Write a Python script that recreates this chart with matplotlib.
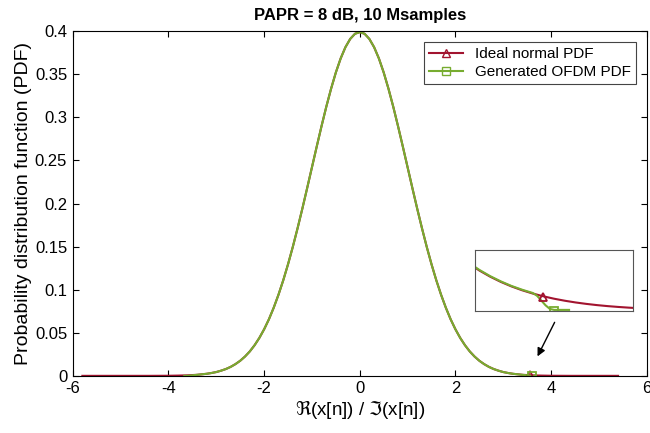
import matplotlib.pyplot as plt
from matplotlib.lines import Line2D

plt.rcParams['font.family'] = ['Liberation Sans', 'DejaVu Sans']
plt.rcParams['mathtext.fontset'] = 'dejavusans'
plt.rcParams['axes.unicode_minus'] = False

# ideal normal pdf, right half (mirrored for the left half)
x_half = [0.0, 0.1, 0.2, 0.3, 0.4, 0.5, 0.6, 0.7, 0.8, 0.9, 1.0, 1.1, 1.2, 1.3, 1.4, 1.5,
          1.6, 1.7, 1.8, 1.9, 2.0, 2.1, 2.2, 2.3, 2.4, 2.5, 2.6, 2.7, 2.8, 2.9, 3.0, 3.1,
          3.2, 3.4, 3.6, 3.8, 4.0, 4.4, 4.8, 5.4, 5.8]
pdf_half = [0.3989, 0.3970, 0.3910, 0.3814, 0.3683, 0.3521, 0.3332, 0.3123, 0.2897, 0.2661,
            0.2420, 0.2179, 0.1942, 0.1714, 0.1497, 0.1295, 0.1109, 0.0941, 0.0790, 0.0656,
            0.0540, 0.0440, 0.0355, 0.0283, 0.0224, 0.0175, 0.0136, 0.0104, 0.0079, 0.0060,
            0.0044, 0.0033, 0.0024, 0.0012, 0.0006, 0.0003, 0.0001, 0.0000, 0.0000, 0.0000,
            0.0000]
x_ideal_max = 5.4

# generated OFDM pdf: same as ideal up to the clipping level, then zero
ofdm_clip = 3.6
ofdm_end = 3.67

# zoomed tail (inset)
x_tail = [3.20, 3.25, 3.30, 3.35, 3.40, 3.45, 3.50, 3.55, 3.60, 3.65, 3.70, 3.75, 3.80,
          3.85, 3.90, 3.95, 4.00]
tail_ideal = [0.002384, 0.002029, 0.001723, 0.001459, 0.001232, 0.001038, 0.000873, 0.000732,
              0.000612, 0.000511, 0.000425, 0.000353, 0.000292, 0.000241, 0.000199, 0.000163,
              0.000134]
x_tail_ofdm = [3.20, 3.25, 3.30, 3.35, 3.40, 3.45, 3.50, 3.52, 3.54, 3.56, 3.58, 3.60, 3.67]
tail_ofdm = [0.002420, 0.002060, 0.001750, 0.001485, 0.001255, 0.001065, 0.000900, 0.000760,
             0.000520, 0.000280, 0.000100, 0.000050, 0.000050]

# marker positions
mark_ideal = (3.55, 0.0007)
mark_ofdm = (3.60, 0.0)

red = '#A2142F'
green = '#77AC30'

# build full curves from the half
x_ideal = [-x for x in reversed(x_half[1:])] + x_half
pdf_ideal = list(reversed(pdf_half[1:])) + pdf_half
keep = [i for i, x in enumerate(x_ideal) if x <= x_ideal_max]
x_ideal = [x_ideal[i] for i in keep]
pdf_ideal = [pdf_ideal[i] for i in keep]

x_o = [x for x in x_half if x < ofdm_clip]
y_o = pdf_half[:len(x_o)]
x_o = x_o + [ofdm_clip, ofdm_end]
y_o = y_o + [0.0, 0.0]
x_ofdm = [-x for x in reversed(x_o[1:])] + x_o
pdf_ofdm = list(reversed(y_o[1:])) + y_o

fig = plt.figure(figsize=(6.5, 4.33), dpi=100)
ax = fig.add_axes([0.112, 0.132, 0.883, 0.796])

ax.plot(x_ideal, pdf_ideal, color=red, lw=1.5)
ax.plot(x_ofdm, pdf_ofdm, color=green, lw=1.5)
ax.plot(*mark_ideal, marker='^', ms=6, mfc='none', mec=red, mew=1.3, ls='none')
ax.plot(*mark_ofdm, marker='s', ms=6, mfc='none', mec=green, mew=1.3, ls='none')

ax.set_xlim(-6, 6)
ax.set_ylim(0, 0.4)
ax.set_xticks([-6, -4, -2, 0, 2, 4, 6])
ax.set_yticks([0, 0.05, 0.1, 0.15, 0.2, 0.25, 0.3, 0.35, 0.4])
ax.set_yticklabels(['0', '0.05', '0.1', '0.15', '0.2', '0.25', '0.3', '0.35', '0.4'])
ax.tick_params(direction='in', top=True, right=True, labelsize=12, length=4, pad=4)
ax.set_xlabel(r'$\Re$(x[n]) / $\Im$(x[n])', fontsize=13.5, labelpad=1)
ax.set_ylabel('Probability distribution function (PDF)', fontsize=14, labelpad=2)
ax.set_title('PAPR = 8 dB, 10 Msamples', fontsize=12, fontweight='bold', pad=8)

handles = [Line2D([], [], color=red, lw=1.5, marker='^', mfc='none', mec=red, ms=6),
           Line2D([], [], color=green, lw=1.5, marker='s', mfc='none', mec=green, ms=6)]
leg = ax.legend(handles, ['Ideal normal PDF', 'Generated OFDM PDF'], loc='upper right',
                fontsize=11, fancybox=False, framealpha=1, edgecolor='#444444',
                borderpad=0.35, handlelength=2.2, labelspacing=0.25, borderaxespad=0.7)
leg.get_frame().set_linewidth(0.8)

ax.annotate('', xy=(3.69, 0.0197), xytext=(4.10, 0.065),
            arrowprops=dict(arrowstyle='-|>', color='black', lw=1, mutation_scale=12))

ins = fig.add_axes([0.731, 0.282, 0.243, 0.141])
ins.plot(x_tail, tail_ideal, color=red, lw=1.5)
ins.plot(x_tail_ofdm, tail_ofdm, color=green, lw=1.5)
ins.plot(*mark_ideal, marker='^', ms=6, mfc='none', mec=red, mew=1.3, ls='none')
ins.plot(*mark_ofdm, marker='s', ms=6, mfc='none', mec=green, mew=1.3, ls='none')
ins.set_xlim(3.23, 3.97)
ins.set_ylim(0, 0.00307)
ins.set_xticks([])
ins.set_yticks([])
for s in ins.spines.values():
    s.set_color('#555555')

fig.savefig('out.png', dpi=100)
